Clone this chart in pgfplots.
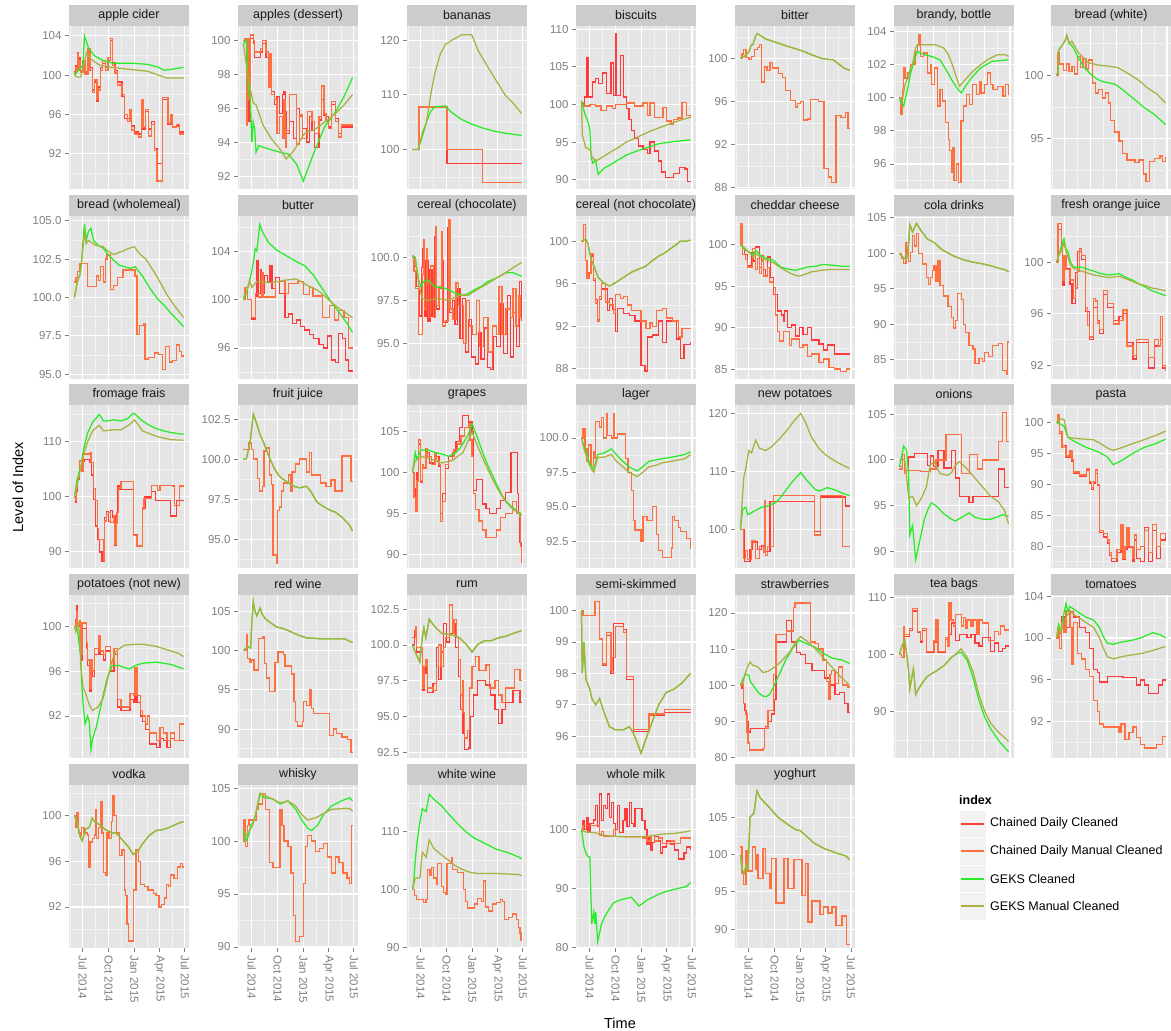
\documentclass[border=0pt]{standalone}
\usepackage{fontspec}
\setmainfont{Liberation Sans}
\usepackage{pgfplots}
\pgfplotsset{compat=1.18}

\definecolor{lnred}{HTML}{FF3A3A}
\definecolor{lnorange}{HTML}{FF7040}
\definecolor{lngreen}{HTML}{26EC26}
\definecolor{lnolive}{HTML}{AAB040}
\definecolor{bggray}{HTML}{E5E5E5}
\definecolor{stripgray}{HTML}{CCCCCC}
\definecolor{tickgray}{HTML}{7F7F7F}
\definecolor{keygray}{HTML}{F2F2F2}

% two series that share the same values
\newcommand{\pair}[3]{\addplot[#1] coordinates {#3};\addplot[#2] coordinates {#3};}

\pgfplotsset{
  panel/.style={
    width=120pt, height=163pt, scale only axis,
    anchor=north west,
    xmin=-49.5, xmax=379.5,
    clip mode=individual,
    axis background/.style={fill=bggray},
    axis line style={draw=none},
    xtick={0,92,184,274,365},
    minor xtick={-46,46,138,229,319.5},
    xticklabels={},
    grid=both,
    major grid style={white, line width=1.1pt},
    minor grid style={white!55!bggray, line width=0.55pt},
    tick pos=left, tick align=outside,
    major tick length=4pt, minor tick length=0pt,
    tick style={tickgray, line width=0.9pt},
    xtick style={draw=none},
    /pgf/number format/assume math mode=true,
    yticklabel style={font=\fontsize{11.5}{13}\selectfont, text=tickgray,
      /pgf/number format/.cd, fixed, precision=2},
  },
  dec/.style={yticklabel style={/pgf/number format/.cd, fixed, fixed zerofill, precision=1}},
  bottomrow/.style={
    xtick style={draw=tickgray},
    xticklabels={Jul 2014,Oct 2014,Jan 2015,Apr 2015,Jul 2015},
    xticklabel style={rotate=-90, anchor=west, font=\fontsize{11.5}{13}\selectfont, text=tickgray},
  },
  strip/.style={after end axis/.append code={
    \fill[stripgray] (rel axis cs:0,1) rectangle ([yshift=21pt]rel axis cs:1,1);
    \node[font=\fontsize{12.5}{14}\selectfont, text=black!90] at ([yshift=10.5pt]rel axis cs:0.5,1) {#1};
  }},
  cr/.style={const plot, draw=lnred, line width=1.35pt, mark=none},
  co/.style={const plot, draw=lnorange, line width=1.35pt, mark=none},
  gc/.style={draw=lngreen, line width=1.25pt, mark=none},
  gm/.style={draw=lnolive, line width=1.25pt, mark=none},
}

\begin{document}
\begin{tikzpicture}
\path[use as bounding box] (0pt,0pt) rectangle (1171pt,-1031pt);

% ---------------- row 1 ----------------
\begin{axis}[panel, at={(69pt,-26pt)}, strip={apple cider},
  ymin=88.4, ymax=105.0, ytick={92,96,100,104}, minor ytick={90,94,98,102}]
\addplot[cr] coordinates {(-30,100.3) (-25,101) (-20,102.3) (-17,100.8) (-12,101.8) (-8,100.5) (0,101.2) (8,100.3) (18,102.5) (25,100.8) (35,98.5) (42,99.3) (50,97.3) (55,98.8) (62,100.8) (70,101.2) (80,100.8) (90,101.5) (100,103.5) (105,101.3) (115,100.5) (125,99.3) (140,97.8) (150,95.6) (160,95.6) (168,96.3) (175,94.8) (185,94.2) (200,94) (210,96.8) (215,94.5) (225,96.3) (235,94.5) (245,95.3) (255,92.5) (265,91) (285,97.5) (305,95) (315,95.8) (320,94.7) (335,94.8) (345,94.2) (360,94.2)};
\addplot[co] coordinates {(-30,100.2) (-25,100.8) (-20,102.2) (-17,100.5) (-12,101.5) (-8,100.3) (0,101.5) (8,100.1) (18,102.7) (25,100.5) (35,98.2) (42,99.5) (50,97.5) (55,98.5) (62,100.5) (70,101.5) (80,100.5) (90,101.8) (100,103.7) (105,101) (115,100.2) (125,99) (140,98) (150,96) (160,95.3) (168,96.5) (175,94.4) (185,94) (200,93.7) (210,97.5) (215,94.7) (225,96.5) (235,93.8) (245,95) (255,92.3) (265,89.2) (285,97.7) (305,95.2) (315,96) (320,94.7) (335,95) (345,94) (360,94)};
\addplot[gc] coordinates {(-30,100) (-15,100.5) (0,101) (6,104) (20,102.8) (40,102) (70,101.5) (110,101.2) (180,101.2) (230,101.1) (270,100.8) (290,100.5) (320,100.6) (360,100.8)};
\addplot[gm] coordinates {(-30,100) (-20,99.8) (-8,99.8) (5,101.2) (13,102.3) (30,101.6) (60,101) (100,100.8) (160,100.6) (230,100.4) (280,99.9) (300,99.7) (360,99.7)};
\end{axis}

\begin{axis}[panel, at={(238pt,-26pt)}, strip={apples (dessert)},
  ymin=91.24, ymax=100.84, ytick={92,94,96,98,100}, minor ytick={93,95,97,99}]
\addplot[cr] coordinates {(-30,100) (-25,100.1) (-20,96) (-15,99.8) (-10,95.2) (-5,100.1) (5,99.8) (10,99) (30,99.3) (38,99.8) (50,99) (60,98.5) (65,99.2) (70,97) (80,96.2) (90,96.7) (100,95.7) (110,96.8) (115,97) (120,95.8) (125,94.5) (135,95.2) (150,94.2) (160,96) (170,95.5) (180,94.8) (195,94) (205,95.5) (215,94.7) (225,93.7) (240,95.3) (250,96.5) (258,95.6) (265,95.5) (275,94.9) (285,96.2) (300,95.4) (310,94.5) (320,94.9) (360,94.9)};
\addplot[co] coordinates {(-30,100) (-25,100.1) (-20,95) (-15,100.1) (-10,96.5) (-5,100.3) (5,100) (10,99.3) (30,99.5) (38,100) (50,99.3) (60,97.2) (65,99.2) (70,96.8) (80,96.5) (90,94.5) (100,95.5) (110,94.2) (115,96.5) (120,93.7) (125,94.7) (135,96.8) (160,93.9) (170,95.6) (180,94.2) (200,95.8) (215,95.2) (225,94.5) (240,95.5) (250,97.3) (258,95.7) (265,95.2) (275,94.8) (285,96.4) (300,95.2) (310,94.3) (320,95) (360,95)};
\addplot[gc] coordinates {(-30,99.8) (-20,100) (-12,97) (-5,96.5) (0,94) (5,95.2) (10,94.8) (15,93.4) (25,93.8) (40,93.7) (60,93.6) (100,93.4) (130,93.3) (160,92.7) (184,91.7) (220,93.3) (260,94.9) (300,95.8) (330,96.7) (360,97.8)};
\addplot[gm] coordinates {(-30,99.8) (-22,98.8) (-10,97.5) (5,96.3) (15,96.2) (40,95) (70,94.2) (100,93.6) (123,93) (150,93.5) (188,94.5) (230,94.8) (270,95.3) (300,95.7) (330,96.2) (360,96.8)};
\end{axis}

\begin{axis}[panel, at={(407pt,-26pt)}, strip={bananas},
  ymin=92.8, ymax=122.6, ytick={100,110,120}, minor ytick={95,105,115}]
\addplot[cr] coordinates {(-30,100) (-6,107.8) (93,97.5) (360,97.5)};
\addplot[co] coordinates {(-30,100) (-6,107.8) (93,100) (220,94) (360,94)};
\addplot[gc] coordinates {(-30,100) (-10,100) (0,101.5) (20,105) (35,107) (50,107.8) (87,108) (110,106.8) (146,105.5) (180,104.7) (218,104) (260,103.4) (301,103) (360,102.6)};
\addplot[gm] coordinates {(-30,100) (-10,100) (-5,101) (5,103) (20,105) (35,110) (50,114) (70,117.5) (87,119.2) (111,120) (146,121) (182,121) (206,118) (235,115.5) (265,113) (301,110) (330,108.5) (360,106.6)};
\end{axis}

\begin{axis}[panel, at={(576pt,-26pt)}, strip={biscuits},
  ymin=88.76, ymax=110.44, ytick={90,95,100,105,110}, minor ytick={92.5,97.5,102.5,107.5}]
\addplot[cr] coordinates {(-30,100) (-20,101) (-10,106.2) (-5,101) (10,103) (20,103.5) (30,102.8) (45,104.2) (60,101.5) (75,105.5) (85,101.2) (92,109.4) (96,101.2) (110,106.5) (120,101) (130,99.5) (140,98) (150,96.5) (160,95.5) (175,94.5) (190,94) (205,93.5) (215,95) (230,93.8) (245,92.5) (256,91) (270,90.3) (300,90.8) (320,91.6) (340,91.4) (350,89.8) (360,89.8)};
\addplot[co] coordinates {(-30,100.3) (-25,99.8) (0,100) (20,99.8) (40,99.2) (60,99.8) (80,99.5) (92,100) (130,100.2) (160,99.8) (190,100.2) (205,98.5) (215,100.2) (230,98.3) (250,98.3) (262,99.6) (275,97.8) (290,97.3) (300,98) (315,98.2) (330,100.3) (345,98.5) (360,98.2)};
\addplot[gc] coordinates {(-30,100.5) (-20,99) (-5,97.5) (0,96.5) (5,93) (10,92.2) (20,92.6) (30,90.7) (50,91.5) (74,92) (100,92.6) (132,93.3) (160,93.7) (190,94.1) (248,94.8) (307,95.1) (360,95.3)};
\addplot[gm] coordinates {(-30,100.2) (-27,96) (-15,94.3) (0,94) (8,93) (23,92.5) (45,93) (75,93.7) (103,94.3) (130,95) (161,95.5) (190,96) (219,96.5) (255,97) (292,97.5) (330,98) (360,98.3)};
\end{axis}

\begin{axis}[panel, at={(735pt,-26pt)}, strip={bitter},
  ymin=87.9, ymax=103.0, ytick={88,92,96,100}, minor ytick={90,94,98,102}]
\pair{cr}{co}{(-30,100) (-25,100.4) (-18,100.8) (-10,100.1) (0,99.9) (10,100.2) (20,100.8) (30,101) (38,101.3) (45,97.8) (55,99.2) (65,98.9) (75,99.6) (85,99.1) (107,98.6) (120,98.2) (130,97) (150,96.1) (167,95.5) (175,95.8) (185,96) (195,94.3) (210,94.4) (220,96.2) (250,96) (269,89.8) (285,89) (296,88.5) (311,94.7) (330,94.5) (345,95) (355,93.5) (360,93.5)}
\pair{gc}{gm}{(-30,100) (-10,100.3) (0,100.6) (8,101.2) (15,101.3) (23,102) (30,102.3) (60,101.8) (107,101.4) (140,101.1) (167,100.9) (200,100.6) (228,100.3) (260,100) (285,99.9) (300,99.9) (320,99.5) (340,99.1) (360,98.9)}
\end{axis}

\begin{axis}[panel, at={(894pt,-26pt)}, strip={brandy, bottle},
  ymin=94.49, ymax=104.34, ytick={96,98,100,102,104}, minor ytick={95,97,99,101,103}]
\pair{cr}{co}{(-30,100) (-25,99) (-20,100.5) (-15,101.8) (-10,101.2) (0,101.5) (10,102) (25,102.8) (35,103.2) (40,103.8) (45,102.5) (55,102.7) (70,101.5) (80,102) (85,100.8) (95,101.8) (105,99.5) (115,100.5) (125,99.8) (135,98.5) (145,97.5) (150,96.8) (155,95.5) (160,97) (165,95) (175,96) (182,94.9) (190,98.6) (200,99.5) (210,100.2) (220,99.6) (232,100.8) (245,100.2) (255,101) (262,100.3) (275,100.8) (285,101.5) (295,100.8) (305,100.5) (320,100.7) (340,100.1) (350,100.8) (360,100.2)}
\addplot[gc] coordinates {(-30,99.9) (-15,99.5) (0,100.6) (10,101.5) (22,102.2) (34,102.8) (60,102.6) (85,102.5) (115,102.3) (140,101.6) (160,101) (175,100.6) (191,100.3) (210,100.8) (232,101.3) (260,101.8) (300,102.2) (360,102.3)};
\addplot[gm] coordinates {(-30,100) (-20,99.8) (-10,100.8) (0,101.2) (10,101.8) (19,102.2) (27,103) (34,103.2) (60,103.2) (100,103.2) (129,103) (145,102.6) (159,102) (172,101.3) (185,100.7) (200,101) (232,101.6) (260,102) (284,102.3) (320,102.6) (350,102.6) (360,102.5)};
\end{axis}

\begin{axis}[panel, at={(1051pt,-26pt)}, strip={bread (white)},
  ymin=91.0, ymax=103.9, ytick={95,100}, minor ytick={92.5,97.5,102.5}]
\pair{cr}{co}{(-30,100) (-25,101.8) (-18,100.9) (-5,100.4) (5,100.9) (15,100.3) (25,100.7) (35,100.1) (45,101.5) (55,100.6) (65,101.3) (75,100.5) (85,101.2) (99,99.4) (110,98.6) (121,98.9) (135,98.2) (145,98.6) (155,97.8) (164,96.4) (178,95.5) (193,94.8) (205,93.8) (222,93.3) (251,93.1) (265,93.3) (280,92.2) (290,91.6) (303,93.2) (320,93.4) (340,93.6) (350,93.2) (360,93.5)}
\addplot[gc] coordinates {(-30,100) (-25,100.2) (-22,102) (-12,102.3) (0,102.7) (7,103.1) (15,102.6) (30,102.2) (48,101.4) (70,100.6) (92,100.1) (115,99.7) (135,99.5) (179,99.3) (210,98.8) (237,98.3) (260,97.9) (280,97.5) (320,96.9) (360,96.1)};
\addplot[gm] coordinates {(-30,100) (-25,100.2) (-22,102) (-12,102.3) (0,102.7) (7,103.2) (15,102.5) (25,102.7) (48,101.8) (84,101) (121,100.8) (164,100.7) (190,100.6) (237,100) (270,99.5) (295,99) (330,98.5) (360,97.8)};
\end{axis}

% ---------------- row 2 ----------------
\begin{axis}[panel, dec, at={(69pt,-216pt)}, strip={bread (wholemeal)},
  ymin=94.7, ymax=105.3, ytick={95,97.5,100,102.5,105}, minor ytick={96.25,98.75,101.25,103.75}]
\pair{cr}{co}{(-30,101) (-25,101.3) (-20,101.7) (-10,102.2) (16,100.7) (48,101.4) (55,101.1) (62,102) (73,101) (80,102.5) (86,102.8) (100,100.5) (110,100.8) (125,101.3) (143,101.8) (187,101.4) (193,97.6) (203,98.2) (218,98.3) (222,96) (235,96.1) (255,96.4) (270,96.3) (285,95.3) (295,96.8) (310,95.8) (320,95.9) (335,96.9) (345,96.5) (352,96.2) (360,96.2)}
\addplot[gc] coordinates {(-30,100) (-20,101) (-10,101.5) (-5,102.2) (0,103.5) (6,104.8) (12,103.7) (20,104.3) (29,104.5) (38,103.7) (55,103.4) (73,103.2) (90,102.8) (111,102.4) (130,102.1) (149,102) (170,101.9) (187,102) (213,101.4) (240,100.6) (263,100) (290,99.5) (314,99) (340,98.5) (360,98.1)};
\addplot[gm] coordinates {(-30,100) (-20,101) (-10,101.5) (-5,102.2) (0,103.2) (6,104.2) (12,103.5) (20,103.7) (29,103.6) (45,103.4) (73,103.3) (90,103) (111,102.8) (140,103) (165,103.2) (184,103.3) (200,102.9) (225,102.5) (250,101.8) (276,101) (300,100.2) (326,99.5) (360,98.7)};
\end{axis}

\begin{axis}[panel, at={(238pt,-216pt)}, strip={butter},
  ymin=93.44, ymax=106.9, ytick={96,100,104}, minor ytick={94,98,102,106}]
\addplot[cr] coordinates {(-30,100) (-25,101) (-15,100) (-1,98.4) (14,100.3) (18,103.2) (22,100.5) (30,102.5) (35,100.5) (45,102) (55,101.5) (65,102.8) (72,100.9) (85,101.8) (100,100.5) (119,98.5) (130,98.8) (145,98) (160,98.3) (175,97.8) (189,97.5) (205,97.1) (221,96.8) (240,96.3) (257,96) (270,97) (285,95) (300,94.8) (310,97.2) (323,96.8) (335,95) (345,94.1) (360,94)};
\addplot[co] coordinates {(-30,100) (-25,101) (-15,100) (-1,98.5) (14,100.5) (24,100.2) (35,102.2) (40,100.2) (85,101.5) (118,100.5) (131,101.3) (165,101.5) (185,100.4) (205,101) (218,100.3) (252,98.5) (278,99.5) (295,98.3) (310,99.1) (330,98.5) (345,96) (360,96)};
\addplot[gc] coordinates {(-30,100) (-20,100.5) (-8,101.5) (5,103) (12,104.2) (18,104) (28,106.2) (40,105.5) (60,104.7) (88,104.1) (110,103.8) (132,103.5) (170,103) (189,102.8) (205,102.4) (221,102) (246,101.1) (278,100) (310,99) (341,98) (360,97.3)};
\addplot[gm] coordinates {(-30,100.2) (-20,100.6) (-8,101.6) (0,101) (18,101.5) (68,101.4) (119,101.6) (157,101.7) (175,101.5) (195,101.2) (233,100.8) (260,100.3) (278,99.9) (310,99.3) (330,99) (360,98.5)};
\end{axis}

\begin{axis}[panel, dec, at={(407pt,-216pt)}, strip={cereal (chocolate)},
  ymin=92.93, ymax=102.4, ytick={95,97.5,100}, minor ytick={93.75,96.25,98.75,101.25}]
\addplot[cr] coordinates {(-30,100) (-22,99.5) (-15,98.3) (-5,96.6) (3,99.4) (8,100.5) (12,96.6) (18,99.8) (26,96.3) (33,99.3) (40,96.6) (50,101.2) (55,97) (66,98.2) (75,99.8) (80,96.2) (95,101.7) (102,96.8) (112,97.5) (122,96.1) (131,98.2) (140,95.3) (150,97.6) (160,94.5) (170,96.4) (180,94.2) (195,93.8) (205,95.6) (215,94.1) (228,95.9) (238,93.6) (250,93.5) (258,95.4) (270,94.8) (285,97.3) (295,94.4) (310,97.8) (320,94.2) (332,96.8) (342,94.8) (352,98.6) (360,96.3)};
\addplot[co] coordinates {(-30,100) (-25,99.2) (-18,98.2) (-8,95.5) (5,99) (10,101) (14,97) (20,100.5) (24,98.5) (28,96.5) (35,99.5) (45,96.5) (52,101.8) (57,97.2) (65,98.3) (73,101.5) (78,96) (88,96.3) (100,102.2) (104,97) (115,96.4) (126,98.5) (135,97.2) (152,95) (162,97.5) (175,96) (185,95.5) (200,97.5) (210,94.8) (225,96.5) (240,94.5) (255,96) (270,95.5) (280,98.3) (290,95.5) (305,97) (320,96.5) (330,98.2) (340,96) (350,97.8) (355,96.5) (360,96.5)};
\addplot[gc] coordinates {(-30,100.1) (-20,100) (-8,98.7) (0,98.3) (10,98.6) (24,98.7) (49,98.3) (87,98.2) (126,97.9) (151,97.8) (170,97.9) (189,98.1) (215,98.3) (240,98.6) (270,98.8) (303,99.1) (330,99.1) (360,98.9)};
\addplot[gm] coordinates {(-30,100.1) (-20,99.9) (-8,98.5) (0,97.9) (5,97.6) (24,97.5) (60,97.6) (100,97.5) (138,97.8) (170,97.8) (189,98) (220,98.3) (252,98.6) (280,98.9) (303,99.1) (330,99.4) (360,99.7)};
\end{axis}

\begin{axis}[panel, at={(576pt,-216pt)}, strip={cereal (not chocolate)},
  ymin=87.05, ymax=102.37, ytick={88,92,96,100}, minor ytick={90,94,98,102}]
\addplot[cr] coordinates {(-30,100) (-22,101.6) (-15,98.2) (-10,96.5) (-3,97) (4,98.6) (14,96.3) (21,94.5) (28,92.6) (35,94.5) (42,95.5) (63,93.5) (70,94.6) (80,93.6) (91,91.5) (98,93.7) (120,93.2) (141,93) (162,92.5) (183,88.3) (197,87.8) (207,91) (225,91.2) (246,92.5) (260,90.5) (274,92.5) (295,92.5) (309,90.8) (323,89) (337,90.3) (360,90.5)};
\addplot[co] coordinates {(-30,100) (-22,101.6) (-15,98.2) (-10,96.5) (-3,97) (4,98.8) (14,96.5) (21,94.2) (28,92.5) (35,94.8) (42,96) (56,94.3) (70,94) (84,93.2) (91,95) (110,94.6) (120,94.8) (134,94) (150,93.5) (183,92.5) (201,91.8) (215,92.3) (225,92) (239,93.5) (260,93.7) (274,92.8) (295,92.5) (316,91) (330,91.8) (360,91.8)};
\pair{gc}{gm}{(-30,100) (-15,100.2) (-7,99.8) (4,98.3) (14,97.7) (30,96.6) (49,96.1) (70,95.8) (92,96.1) (120,96.6) (150,97.1) (176,97.4) (197,97.6) (220,98.1) (246,98.6) (268,98.9) (288,99.3) (310,99.7) (323,100) (345,100) (360,100.1)}
\end{axis}

\begin{axis}[panel, at={(735pt,-216pt)}, strip={cheddar cheese},
  ymin=83.8, ymax=103.44, ytick={85,90,95,100}, minor ytick={87.5,92.5,97.5,102.5}]
\addplot[cr] coordinates {(-30,100) (-23,99.5) (-15,98.8) (-5,97.5) (10,99) (17,98) (24,99.7) (38,97.2) (45,98.7) (52,97) (60,96.2) (67,98.5) (78,96) (88,94) (102,92) (116,91.5) (124,90.8) (128,92) (138,90) (152,90.3) (166,89) (180,90) (194,89.2) (209,90) (223,88.5) (251,88) (266,87.3) (280,87.9) (307,86.8) (360,86.7)};
\addplot[co] coordinates {(-30,100) (-28,102.5) (-23,98.8) (-12,98.2) (-5,97.3) (12,99.5) (24,97) (31,98.3) (38,96.5) (45,98) (52,96.2) (67,97.2) (74,95.5) (88,94.8) (95,91.5) (102,89.5) (109,88.4) (124,89.5) (145,87.8) (152,88.6) (180,87.6) (194,87.9) (209,86.5) (223,86.8) (251,85.8) (266,86.2) (286,85.2) (307,85) (328,84.7) (349,85) (360,84.9)};
\addplot[gc] coordinates {(-30,100) (-15,99.4) (0,99.1) (17,98.8) (24,99.3) (45,98.6) (67,98.3) (88,98.1) (100,97.7) (115,97.3) (131,97.1) (166,96.9) (190,97.1) (209,97.3) (240,97.4) (266,97.6) (300,97.5) (330,97.4) (360,97.4)};
\addplot[gm] coordinates {(-30,100) (-15,99.6) (0,99.1) (17,98.5) (24,98.9) (52,98.3) (88,97.8) (110,97.3) (124,97) (145,96.6) (166,96.3) (180,96.2) (200,96.4) (223,96.7) (260,96.9) (294,97) (360,97)};
\end{axis}

\begin{axis}[panel, at={(894pt,-216pt)}, strip={cola drinks},
  ymin=82.3, ymax=105.24, ytick={85,90,95,100,105}, minor ytick={87.5,92.5,97.5,102.5}]
\pair{cr}{co}{(-30,100) (-22,99.3) (-15,98.6) (-7,101.5) (3,98.8) (10,100.1) (17,102.5) (24,101) (31,102.8) (38,100) (52,98.5) (66,96.6) (73,95.6) (80,96.6) (87,97.6) (94,98.3) (101,96) (108,99) (115,95.5) (128,94) (143,92.5) (157,91) (163,89.5) (171,90.5) (178,94.3) (192,93.5) (199,90) (206,88.8) (219,87) (233,86.5) (240,84.5) (254,85.2) (268,84.8) (275,86) (289,85.5) (303,87) (324,87.3) (338,83.5) (352,83) (356,87.5) (360,87.6)}
\pair{gc}{gm}{(-30,100) (-20,99.5) (-5,99.1) (3,101.5) (7,104) (17,103) (31,104.2) (50,103) (70,102) (94,101.5) (122,100.5) (145,100) (170,99.5) (198,99.1) (226,98.8) (268,98.5) (300,98.2) (324,97.9) (345,97.7) (360,97.4)}
\end{axis}

\begin{axis}[panel, at={(1051pt,-216pt)}, strip={fresh orange juice},
  ymin=90.96, ymax=103.56, ytick={92,96,100}, minor ytick={94,98,102}]
\addplot[cr] coordinates {(-30,100) (-25,102.5) (-13,101) (-8,98.2) (-3,100) (4,99.5) (18,98.3) (25,96.8) (39,99.2) (46,100.8) (60,100.2) (74,96.2) (88,94) (103,96.5) (117,95.5) (124,94.5) (138,97.5) (152,96.5) (173,95.5) (194,95.8) (208,96) (222,93.8) (243,92.5) (257,93.8) (285,93.8) (300,91.8) (320,93.5) (342,94) (350,91.8) (360,91.6)};
\addplot[co] coordinates {(-30,100) (-25,103) (-13,101.5) (-8,98.6) (-3,100.5) (4,99.4) (18,98.6) (32,97.2) (39,98) (46,99.3) (53,101) (60,100.5) (74,96.5) (81,95.1) (88,94.2) (103,97.2) (110,97) (117,95.3) (124,94.8) (138,97.8) (152,96.8) (173,95.2) (194,95.5) (208,96.3) (222,93.5) (243,92.8) (257,94) (285,94) (300,92.6) (320,94) (335,93.5) (342,95.8) (350,92) (360,91.6)};
\addplot[gc] coordinates {(-30,100) (-22,100.5) (-10,101.4) (-3,101.8) (4,101) (11,100.8) (20,100) (32,99.6) (60,99.6) (103,99.3) (130,99.1) (159,99) (194,99.1) (220,98.8) (243,98.6) (265,98.3) (285,98.1) (310,97.8) (335,97.6) (360,97.4)};
\addplot[gm] coordinates {(-30,100) (-22,100.5) (-10,101) (-3,101.5) (4,100.8) (11,100.4) (20,99.8) (32,99.5) (60,99.3) (103,99) (130,98.9) (159,98.8) (194,98.9) (220,98.7) (243,98.5) (265,98.3) (285,98.2) (310,98) (335,97.9) (360,97.8)};
\end{axis}

% ---------------- row 3 ----------------
\begin{axis}[panel, at={(69pt,-405pt)}, strip={fromage frais},
  ymin=87.07, ymax=116.7, ytick={90,100,110}, minor ytick={95,105,115}]
\addplot[cr] coordinates {(-30,100) (-27,99) (-22,101) (-18,103.2) (-13,105.5) (-5,106.5) (5,106.8) (23,106.3) (32,104) (38,99.5) (46,94.7) (52,92.3) (60,90) (68,88.2) (77,96.2) (84,97.4) (92,95.5) (99,97.5) (106,96.3) (114,91.2) (118,96.5) (124,102) (130,101.3) (181,93.2) (194,91.2) (213,98) (222,100) (245,101) (260,99.3) (300,99.3) (314,96.5) (335,99.3) (360,99.3)};
\addplot[co] coordinates {(-30,100) (-27,99.3) (-22,101.5) (-18,103.5) (-13,106.5) (-5,104.6) (1,107.8) (23,108) (29,106.3) (38,101.5) (46,99.3) (52,94.2) (56,92.2) (73,88.5) (77,95.6) (84,96.8) (92,97.2) (99,95.4) (109,96.6) (114,91.3) (118,95.2) (122,97.2) (127,101.6) (137,102.8) (181,93) (194,91.1) (213,97.8) (219,99.7) (245,102.1) (267,101.2) (276,102.1) (320,102) (327,98.4) (345,102) (360,102)};
\addplot[gc] coordinates {(-30,100) (-21,103) (-13,104.6) (-5,106) (4,109) (17,111.6) (35,113.6) (48,114.3) (58,115) (67,114.4) (73,113.8) (86,113.8) (111,114) (137,113.8) (162,114.3) (175,115) (184,115.2) (200,114.4) (213,113.8) (238,113) (263,112.4) (289,112) (314,111.7) (340,111.5) (360,111.4)};
\addplot[gm] coordinates {(-30,100) (-21,102) (-13,104) (-5,106) (4,108) (17,110) (35,112) (58,113) (67,112.5) (73,112) (111,112.2) (137,112.2) (162,113) (175,113.5) (184,114) (200,113) (213,112) (238,111.5) (263,111) (289,110.7) (314,110.4) (360,110.3)};
\end{axis}

\begin{axis}[panel, dec, at={(238pt,-405pt)}, strip={fruit juice},
  ymin=93.19, ymax=103.38, ytick={95,97.5,100,102.5}, minor ytick={93.75,96.25,98.75,101.25}]
\pair{cr}{co}{(-30,100.6) (-20,100.6) (-10,101) (-2,100.6) (5,100) (20,98.8) (28,98) (37,98.3) (43,100.5) (50,100.7) (62,99) (70,98.4) (75,94) (87,93.5) (91,96.8) (100,97) (107,98) (113,98.5) (131,99) (138,98) (144,99.2) (157,99.7) (170,100) (195,99.2) (205,100.4) (214,99) (245,98.5) (265,98.3) (283,98.7) (297,98) (322,100.2) (354,98.6) (360,98.6)}
\pair{gc}{gm}{(-30,100) (-20,100) (-12,100.6) (-5,101.2) (5,102.8) (12,102.5) (30,101.5) (43,101) (56,100.4) (70,99.8) (81,99.4) (95,99) (107,98.8) (132,98.5) (150,98.3) (170,98.2) (195,98.3) (210,98) (233,97.3) (259,97) (280,96.8) (297,96.7) (320,96.4) (348,95.9) (360,95.5)}
\end{axis}

\begin{axis}[panel, at={(407pt,-405pt)}, strip={grapes},
  ymin=88.35, ymax=108.29, ytick={90,95,100,105}, minor ytick={92.5,97.5,102.5,107.5}]
\addplot[cr] coordinates {(-30,100) (-24,98) (-20,96.2) (-14,100) (-8,103.5) (-2,98.8) (5,100.6) (18,102.5) (30,101.2) (50,102) (65,100.8) (71,95) (77,97.5) (87,100.5) (100,102) (113,102.5) (126,103.8) (138,105.5) (150,107) (170,106.2) (183,105) (189,97.8) (198,99.2) (220,96.2) (233,95.6) (245,95) (271,95.6) (284,96.6) (303,97.6) (322,102.5) (345,97.5) (350,95) (355,91.5) (360,89.5)};
\addplot[co] coordinates {(-30,100) (-24,97) (-20,95.3) (-14,99) (-8,104) (-2,99) (5,101) (10,100.5) (18,103) (24,102) (37,101) (50,102.3) (56,101.5) (65,101) (71,94) (77,96.5) (87,101) (100,101.5) (113,102) (119,102.8) (132,103.5) (144,104.5) (157,105.5) (170,106) (176,104) (183,102) (189,97.5) (195,95.5) (208,94.1) (220,93) (233,92.1) (271,93) (284,94.5) (303,95) (328,96.5) (341,95) (354,94.5) (357,91) (360,89)};
\addplot[gc] coordinates {(-30,100) (-20,102.5) (-14,101.6) (0,102.8) (25,102.8) (50,102.5) (75,102.3) (100,102) (126,102.5) (140,103) (151,103.6) (170,104.7) (183,106) (200,104.5) (220,102.6) (238,101) (252,100) (265,99) (278,98.1) (290,97.3) (303,96.6) (320,96) (340,95.4) (360,94.8)};
\addplot[gm] coordinates {(-30,100) (-20,101.5) (0,102) (25,101.8) (50,101.5) (75,101.2) (113,101.5) (151,102.5) (170,104) (183,105) (200,103.5) (225,101.5) (252,99.5) (278,97.8) (303,96.5) (330,95.5) (360,95)};
\end{axis}

\begin{axis}[panel, dec, at={(576pt,-405pt)}, strip={lager},
  ymin=90.54, ymax=102.4, ytick={92.5,95,97.5,100}, minor ytick={91.25,93.75,96.25,98.75,101.25}]
\pair{cr}{co}{(-30,100) (-24,100.7) (-17,99.2) (-10,98.3) (-4,99.5) (4,98) (14,99) (18,98.5) (21,101.2) (35,100.8) (42,101.5) (49,100) (60,101.8) (63,100.2) (77,100) (84,101.8) (88,100) (98,100.3) (127,98.5) (137,97.5) (148,96.2) (155,94) (162,93.3) (183,92.5) (190,94.3) (204,94) (225,95) (239,93) (246,91.8) (260,91.3) (292,92) (295,94.3) (303,94) (317,93.5) (324,93.2) (345,92.7) (360,91.9)}
\addplot[gc] coordinates {(-30,100) (-22,99.5) (-7,98.5) (4,98) (14,97.7) (28,98.8) (50,98.9) (77,99.2) (95,98.8) (113,98.4) (140,97.9) (169,97.6) (183,97.8) (211,98.3) (235,98.4) (260,98.5) (290,98.6) (316,98.7) (340,98.8) (360,99)};
\addplot[gm] coordinates {(-30,100) (-22,99.3) (-7,98.3) (4,97.8) (14,97.5) (28,98.6) (50,98.6) (77,98.8) (95,98.3) (113,98) (140,97.5) (169,97.2) (183,97.4) (211,97.9) (235,98) (260,98.2) (290,98.3) (316,98.4) (340,98.5) (360,98.8)};
\end{axis}

\begin{axis}[panel, at={(735pt,-405pt)}, strip={new potatoes},
  ymin=93.33, ymax=121.45, ytick={100,110,120}, minor ytick={95,105,115}]
\addplot[cr] coordinates {(-30,100) (-15,94.5) (4,96.5) (14,97.8) (30,96.5) (45,97.2) (60,96.2) (75,104.8) (234,99.6) (256,105.6) (345,104) (360,104)};
\addplot[co] coordinates {(-30,100) (-20,95) (-12,96.3) (-5,94.8) (10,98) (24,95) (38,97) (52,96) (56,105) (60,95.5) (67,97) (88,105.8) (234,99) (256,105.8) (335,97) (360,97)};
\addplot[gc] coordinates {(-30,100) (-22,103.5) (-11,103.8) (-4,102.5) (17,103.1) (45,103.8) (67,104) (95,104.6) (110,105.3) (124,106.2) (150,107.9) (185,109.8) (210,108.3) (237,106.9) (252,106.6) (280,107.2) (308,106.8) (336,106.2) (360,105.8)};
\addplot[gm] coordinates {(-30,100) (-25,104) (-18,109) (-11,110.5) (0,113.6) (10,113.2) (24,115.4) (38,114) (60,113.6) (80,114.2) (109,115.6) (138,117.2) (160,118.6) (185,120) (202,118.5) (223,116) (250,114) (273,112.9) (301,112) (322,111.4) (360,110.5)};
\end{axis}

\begin{axis}[panel, at={(894pt,-405pt)}, strip={onions},
  ymin=88.16, ymax=106.0, ytick={90,95,100,105}, minor ytick={92.5,97.5,102.5}]
\addplot[cr] coordinates {(-30,99.3) (-20,100.6) (-11,98.8) (3,100.3) (24,100.7) (70,99.4) (80,100.4) (91,99.3) (108,101) (129,99.1) (157,101) (171,98) (185,96) (219,95.3) (233,96) (324,99) (345,97) (360,97)};
\addplot[co] coordinates {(-30,99) (-20,100.6) (-11,98.5) (-4,98.8) (45,98.7) (80,99) (100,100) (136,102.8) (192,98.5) (220,100.6) (248,99) (268,100) (324,102) (338,105.2) (352,102) (360,102)};
\addplot[gc] coordinates {(-30,99.2) (-15,101.5) (-4,101) (3,98) (7,91.8) (17,92.8) (28,89.1) (45,91.5) (59,93.5) (72,94.6) (84,95.3) (100,95) (128,94.1) (156,93.5) (170,93.3) (198,93.8) (219,94.2) (240,93.7) (268,93.5) (296,93.5) (324,93.8) (338,94) (360,93.8)};
\addplot[gm] coordinates {(-30,100) (-11,100) (-4,98) (3,95.8) (17,96) (31,95) (45,95.6) (66,97) (80,99.4) (94,99.8) (115,98.5) (143,98.3) (156,98.6) (170,99.4) (184,99.8) (212,99) (240,98) (268,97) (296,96) (324,95.4) (345,94.5) (360,93)};
\end{axis}

\begin{axis}[panel, at={(1051pt,-405pt)}, strip={pasta},
  ymin=76.47, ymax=102.83, ytick={80,85,90,95,100}, minor ytick={77.5,82.5,87.5,92.5,97.5,102.5}]
\addplot[cr] coordinates {(-30,100) (-25,101) (-20,98.2) (-10,96.3) (4,94.3) (18,95.2) (25,93.8) (32,91.8) (53,91.3) (77,92.2) (88,90.2) (95,89.2) (103,90.2) (110,91.8) (117,89.8) (124,82.2) (138,81.5) (152,80.5) (159,78.5) (166,77.5) (187,79) (201,82.8) (208,77.8) (215,79.5) (222,82.5) (229,79.8) (243,77.5) (250,81) (257,78) (271,77.5) (285,83) (300,77.5) (313,82.5) (328,78) (342,81) (360,81.8)};
\addplot[co] coordinates {(-30,100) (-25,101.3) (-20,98.5) (-10,96) (4,94.6) (18,95.5) (25,94) (32,92) (53,91.5) (77,92.5) (88,90.5) (95,89.5) (103,90.5) (110,92.3) (117,90) (124,82.5) (138,82) (152,81) (159,79) (166,78) (187,79.5) (201,83.5) (208,78) (215,80) (222,83) (229,80) (243,78) (250,81.8) (257,79.5) (271,80) (285,82.5) (300,79) (313,83.5) (328,80) (342,82) (360,81.5)};
\addplot[gc] coordinates {(-30,100) (-17,99.8) (-3,99.4) (11,97.6) (32,97) (75,96) (117,95.3) (150,94.5) (173,93.2) (201,93.8) (243,95) (285,96) (320,96.5) (360,97.3)};
\addplot[gm] coordinates {(-30,100) (-17,100.6) (-3,100.5) (11,97.6) (46,97.4) (103,97.2) (131,96.5) (155,95.8) (173,95.5) (201,95.9) (243,96.6) (270,97) (300,97.5) (330,98) (360,98.6)};
\end{axis}

% ---------------- row 4 ----------------
\begin{axis}[panel, at={(69pt,-595pt)}, strip={potatoes (not new)},
  ymin=88.26, ymax=102.78, ytick={92,96,100}, minor ytick={90,94,98,102}]
\addplot[cr] coordinates {(-30,100) (-25,100.6) (-21,101.8) (-19,100) (-13,100.2) (-9,97) (-3,99.8) (13,98) (17,96.5) (23,94.2) (29,96.5) (35,95.5) (42,97.5) (57,98.8) (61,97.5) (73,97) (80,97.8) (99,96) (111,97.5) (124,92.8) (137,92.5) (168,93.5) (181,93.2) (187,95.5) (194,93.2) (206,92) (213,91.5) (225,90.8) (238,89.5) (263,89.2) (276,90) (289,89.8) (301,89.2) (314,90) (327,89.8) (360,89.8)};
\addplot[co] coordinates {(-30,100) (-25,100.5) (-21,101.3) (-19,100.2) (-13,100.5) (-9,97.5) (-3,100.3) (13,98.5) (17,97) (23,94.5) (29,97) (35,96) (42,98) (57,99.2) (61,97.8) (73,97.5) (80,98.2) (99,96.8) (111,98) (124,93.5) (137,92.8) (168,94) (181,93.8) (187,96.3) (194,93.8) (206,92.5) (213,92) (225,91.3) (232,92) (238,90.5) (263,89.8) (276,91) (289,90.5) (301,89.8) (314,90.5) (327,89.8) (345,91.3) (360,91.3)};
\addplot[gc] coordinates {(-30,100) (-20,99.8) (-9,97.5) (-3,94.5) (1,93) (8,91.3) (17,92) (23,91.5) (29,89) (35,90) (48,91) (61,92.5) (73,93.9) (86,95.3) (105,96.5) (130,96.5) (149,96.3) (168,96.2) (187,96.5) (213,96.7) (263,96.8) (314,96.6) (360,96.2)};
\addplot[gm] coordinates {(-30,100) (-25,99.5) (-21,100) (-15,100.3) (-9,98) (-5,96) (0,94.6) (10,94) (23,93) (35,92.5) (54,92.8) (73,93.6) (86,95) (99,96.5) (111,97.4) (124,97.9) (149,98.3) (187,98.4) (213,98.4) (238,98.3) (263,98.2) (289,98) (314,97.8) (340,97.6) (360,97.3)};
\end{axis}

\begin{axis}[panel, at={(238pt,-595pt)}, strip={red wine},
  ymin=86.32, ymax=107.05, ytick={90,95,100,105}, minor ytick={87.5,92.5,97.5,102.5}]
\pair{cr}{co}{(-30,100) (-20,102) (-16,99) (-7,98.5) (-1,98.8) (8,97.5) (24,101.5) (40,101.8) (45,98.3) (53,96.5) (62,94.8) (83,98.5) (94,99.8) (112,99.5) (119,98) (142,97) (151,93.5) (157,91) (164,90.4) (180,91) (185,93.5) (195,93) (208,95) (214,92.6) (221,92) (270,92) (278,89.2) (291,90) (303,89.4) (322,89) (341,88.7) (355,87) (360,87)}
\pair{gc}{gm}{(-30,100) (-14,100.5) (-4,100.3) (-1,103) (5,106.2) (11,105) (18,104.4) (30,105.4) (37,104.6) (49,104) (68,103.5) (88,103) (110,102.8) (132,102.5) (150,102.2) (170,101.9) (195,101.6) (240,101.5) (297,101.5) (330,101.5) (360,101)}
\end{axis}

\begin{axis}[panel, dec, at={(407pt,-595pt)}, strip={rum},
  ymin=92.1, ymax=103.49, ytick={92.5,95,97.5,100,102.5}, minor ytick={93.75,96.25,98.75,101.25}]
\addplot[cr] coordinates {(-30,100) (-22,101) (-15,99.5) (5,96.8) (11,98) (18,98.6) (24,96.7) (43,97.3) (56,99.8) (62,97.6) (72,99.5) (81,101.5) (92,100.2) (103,100.8) (113,101.5) (125,99.8) (135,97.8) (141,95.5) (151,93.8) (157,92.7) (170,92.8) (176,95) (189,96.5) (202,97.5) (230,97.2) (250,96.5) (265,95.5) (278,94.5) (290,95.5) (303,96) (329,96.8) (355,96) (360,96)};
\addplot[co] coordinates {(-30,100.5) (-20,101.3) (-15,99.8) (5,97) (11,98.5) (18,99) (24,97) (43,96.8) (56,98.5) (62,100) (72,98.5) (81,99.8) (87,100.5) (103,102.8) (113,100.8) (119,101.8) (128,100.5) (135,99) (141,96.5) (148,97.5) (151,95.3) (157,93.5) (167,94) (174,97) (183,98.5) (196,99.2) (208,98.2) (233,98.6) (246,97) (265,97.5) (278,96.5) (290,96) (303,97) (335,98.3) (355,97.5) (360,97.5)};
\pair{gc}{gm}{(-30,100) (-20,99.5) (-4,98.8) (5,100.5) (11,101.2) (18,100.5) (30,101.8) (49,101.3) (75,100.8) (113,100.7) (138,100.5) (164,100) (183,99.5) (202,100) (227,100.3) (252,100.3) (278,100.5) (303,100.6) (329,100.8) (360,101)}
\end{axis}

\begin{axis}[panel, at={(576pt,-595pt)}, strip={semi-skimmed},
  ymin=95.3, ymax=100.5, ytick={96,97,98,99,100}, minor ytick={95.5,96.5,97.5,98.5,99.5}]
\addplot[cr] coordinates {(-30,100) (-24,99.85) (18,100.3) (35,99.1) (46,98.25) (60,99.2) (76,98) (84,99.6) (120,99.4) (131,97.8) (155,96.15) (211,96.65) (267,96.75) (360,96.75)};
\addplot[co] coordinates {(-30,100) (-24,99.85) (18,100.3) (35,99.1) (46,98.3) (60,99.3) (76,98.1) (82,98.5) (91,99.5) (120,99.3) (131,97.9) (155,96.2) (211,96.7) (267,96.85) (360,96.85)};
\pair{gc}{gm}{(-30,100) (-27,98) (-21,99) (-14,97.8) (0,97.5) (7,97.2) (21,97) (35,97.2) (49,96.8) (70,96.3) (91,96.2) (120,96.2) (141,96.3) (155,96.1) (169,95.8) (183,95.45) (204,96) (225,96.5) (246,97) (274,97.4) (302,97.5) (330,97.7) (360,98)}
\end{axis}

\begin{axis}[panel, at={(735pt,-595pt)}, strip={strawberries},
  ymin=79.8, ymax=125.0, ytick={80,90,100,110,120}, minor ytick={85,95,105,115}]
\addplot[cr] coordinates {(-30,100) (-25,99) (-18,95) (-14,93) (-8,90) (-3,87) (5,88) (60,88.5) (68,90) (80,92) (92,96) (97,112) (135,118) (152,112) (170,109) (185,108.5) (203,106) (226,104) (250,104) (270,102) (290,100) (308,97.5) (325,98) (343,95) (355,92.5) (360,92.5)};
\addplot[co] coordinates {(-30,100) (-25,100.5) (-18,95) (-11,92) (-7,87) (-3,84) (2,82) (50,82.5) (56,88) (68,93) (88,103) (97,114) (135,115) (160,121.5) (165,122.8) (220,112) (237,111.5) (250,110) (265,107) (278,101) (284,96) (290,103) (296,104) (308,100.5) (320,105) (335,100) (355,99.5) (360,99.5)};
\addplot[gc] coordinates {(-30,100) (-20,102) (-10,103) (0,102.8) (5,101) (15,100) (33,98) (50,97) (62,96.8) (75,97.5) (91,100) (109,103) (132,107) (155,110) (180,112.5) (203,111.6) (238,110.5) (262,109) (297,107.5) (332,107) (360,106)};
\addplot[gm] coordinates {(-30,100) (-20,101) (-14,103) (-5,105) (4,106.5) (15,105.5) (33,105) (50,103.5) (68,103.8) (91,105) (115,106.5) (144,109) (168,112) (185,113.5) (203,112.5) (232,110.5) (262,108) (297,105) (332,102) (360,100)};
\end{axis}

\begin{axis}[panel, at={(894pt,-595pt)}, strip={tea bags},
  ymin=81.9, ymax=110.4, ytick={90,100,110}, minor ytick={85,95,105}]
\addplot[cr] coordinates {(-30,100) (-22,99.5) (-14,104.5) (-11,103.2) (6,104.2) (17,107.6) (34,103.8) (45,102.2) (52,104.2) (66,100.3) (94,102.2) (101,105.5) (108,100.3) (135,102.6) (150,103.5) (157,105.5) (171,102.5) (185,103.5) (212,103) (226,103.5) (240,102) (254,101.5) (268,103) (296,100.5) (310,102) (324,100.5) (338,101) (350,101.5) (360,101.5)};
\addplot[co] coordinates {(-30,100) (-22,99.5) (-14,104.8) (-11,103.5) (6,104.5) (17,108) (34,104) (45,102.5) (52,104.5) (66,100.5) (94,102.5) (101,106) (108,100.5) (135,103) (143,101.5) (147,109) (154,106) (164,105) (171,107) (192,105) (199,106.5) (206,104.5) (212,106) (226,105) (233,106) (247,103.5) (254,106) (268,105.5) (289,102.5) (310,104) (324,103.5) (331,105) (345,104.3) (360,104.3)};
\addplot[gc] coordinates {(-30,100) (-21,101.5) (-11,102.5) (-4,100) (3,97) (7,94) (14,96) (20,97.5) (28,93) (38,94) (52,95) (66,96) (80,96.5) (101,97.1) (128,98) (156,99.5) (177,100.2) (190,100.4) (212,99) (233,96) (254,92) (275,89) (296,87) (324,85) (345,83.8) (360,83)};
\addplot[gm] coordinates {(-30,100) (-21,101.5) (-11,102.5) (-4,100) (3,97) (7,94) (14,96) (20,97.5) (28,93) (38,94) (52,95) (66,96) (80,96.5) (101,97.1) (128,98) (156,99.5) (177,100.3) (190,101) (212,99.5) (233,97) (254,93) (275,90) (296,88) (324,86.4) (345,85.5) (360,84.8)};
\end{axis}

\begin{axis}[panel, at={(1051pt,-595pt)}, strip={tomatoes},
  ymin=88.54, ymax=104.1, ytick={92,96,100,104}, minor ytick={90,94,98,102}]
\addplot[cr] coordinates {(-30,100) (-25,101) (-18,100.4) (-11,102) (-3,101) (18,102.5) (32,102) (53,101) (74,100.5) (88,99) (103,97) (117,96.7) (124,95.8) (152,96.3) (208,96.2) (257,95.5) (271,96) (285,95.5) (300,94.7) (335,95.5) (350,96) (360,96)};
\addplot[co] coordinates {(-30,100) (-25,101) (-18,99) (-11,101.5) (-3,100.5) (4,102.6) (18,101) (25,97.5) (32,101.5) (46,98.5) (60,98) (74,97) (88,96.3) (103,94) (117,93) (124,91.8) (138,91.5) (194,91) (201,91.8) (215,90.3) (229,91) (243,91.5) (257,90.5) (271,89.8) (285,89.5) (328,89.8) (350,90.6) (360,90.6)};
\addplot[gc] coordinates {(-30,100) (-22,101.3) (-13,100.6) (-6,102) (4,103.3) (11,102.5) (18,103) (46,102.5) (74,102) (103,101.7) (124,101) (138,100.1) (152,99.5) (173,99.4) (201,99.6) (243,99.8) (271,100) (314,100.5) (342,100.3) (360,100)};
\addplot[gm] coordinates {(-30,100) (-22,101) (-13,100.5) (-6,101.5) (4,102) (18,102.5) (46,102) (74,101.5) (103,101) (124,100) (138,99) (152,98.2) (173,98) (201,98.2) (243,98.4) (271,98.5) (314,98.8) (360,99.2)};
\end{axis}

% ---------------- row 5 ----------------
\begin{axis}[panel, bottomrow, at={(69pt,-785pt)}, strip={vodka},
  ymin=88.4, ymax=102.7, ytick={92,96,100}, minor ytick={90,94,98,102}]
\pair{cr}{co}{(-30,100) (-25,99) (-21,100.3) (-15,98.5) (-9,98.2) (-5,99) (4,98.5) (16,98.3) (20,95.5) (25,97.7) (35,98) (41,98.3) (45,100.5) (49,98) (57,99) (63,101.2) (69,98.5) (74,95) (81,94.8) (86,98.5) (94,98) (103,99.5) (107,101.8) (111,100) (121,98.5) (131,96.5) (140,97) (148,93.5) (152,93) (158,90.5) (164,89) (181,93.5) (190,97) (198,96) (206,94) (221,93.8) (233,93.5) (252,93.2) (261,93) (272,92) (282,92.2) (292,92.8) (300,94) (307,93.8) (313,94.8) (326,94.5) (338,95.5) (350,95.8) (357,95.5) (360,95.5)}
\pair{gc}{gm}{(-30,100) (-21,99.5) (-9,98.1) (-2,97.8) (10,98.8) (23,99) (33,99.8) (42,99.5) (61,99.2) (80,98.8) (105,98.5) (118,98.5) (137,98) (162,97.3) (180,96.6) (200,97) (212,97.5) (238,98.3) (262,98.7) (287,98.8) (312,99) (337,99.3) (360,99.5)}
\end{axis}

\begin{axis}[panel, bottomrow, at={(238pt,-785pt)}, strip={whisky},
  ymin=89.9, ymax=105.3, ytick={90,95,100,105}, minor ytick={92.5,97.5,102.5}]
\pair{cr}{co}{(-30,100) (-28,102) (-22,99.5) (-16,101.5) (-10,102) (17,103) (24,103.5) (38,104.5) (48,103) (62,98) (76,97.5) (101,103) (108,101.5) (115,100) (129,99.5) (140,97) (150,93) (157,90.5) (171,91) (185,96) (192,99.5) (199,100.5) (214,100) (228,99) (242,99.3) (256,99.8) (270,98.5) (284,97) (298,98.5) (312,98) (326,97) (340,96.5) (350,96) (357,101.5) (360,101.5)}
\addplot[gc] coordinates {(-30,101) (-22,100) (-12,100.5) (-4,101.5) (10,102) (17,103) (31,104.5) (45,104.1) (73,104) (101,103.5) (129,103.8) (157,103) (178,102) (200,101.2) (214,101) (235,101.5) (256,102.5) (284,103.3) (320,103.8) (350,104.1) (360,103.8)};
\addplot[gm] coordinates {(-30,100) (-20,100.5) (-8,101) (3,101.5) (17,103) (28,104.5) (45,104.3) (73,104) (101,103.6) (129,103.8) (157,103.3) (178,102.5) (200,102) (228,102.2) (256,102.6) (284,103) (340,103.1) (355,103) (360,102.8)};
\end{axis}

\begin{axis}[panel, bottomrow, at={(407pt,-785pt)}, strip={white wine},
  ymin=89.9, ymax=118.1, ytick={90,100,110}, minor ytick={95,105,115}]
\pair{cr}{co}{(-30,100) (-23,99) (-15,98.3) (9,97.8) (19,98.3) (23,103.5) (33,102.5) (39,103.8) (46,102) (55,101) (59,104.5) (73,100.5) (80,99.5) (87,99.2) (94,104.5) (110,105.5) (113,103.5) (130,103) (152,100) (159,98) (166,96.8) (191,97.5) (202,98.5) (216,98) (223,101.5) (230,97) (243,96.3) (257,97.5) (271,97.8) (285,98.3) (292,98) (300,94.8) (314,95.2) (328,95.8) (342,94.8) (350,93.5) (355,92.5) (358,91.3) (360,91.3)}
\addplot[gc] coordinates {(-30,100) (-26,101) (-20,105) (-14,108) (-7,110.5) (5,114) (19,113.5) (30,116.5) (47,115.6) (74,114.5) (101,113) (128,111.6) (161,110) (188,109) (229,108) (270,107) (311,106.4) (352,105.6) (360,105.3)};
\addplot[gm] coordinates {(-30,100) (-20,102) (-3,102) (5,106.5) (19,105.6) (30,108.6) (47,107.1) (74,106) (101,105) (121,104.2) (148,103.5) (175,103) (202,102.8) (270,102.8) (311,102.7) (352,102.6) (360,102.4)};
\end{axis}

\begin{axis}[panel, bottomrow, at={(576pt,-785pt)}, strip={whole milk},
  ymin=79.9, ymax=107.5, ytick={80,90,100}, minor ytick={85,95,105}]
\addplot[cr] coordinates {(-30,100) (-24,101.5) (-18,100) (-13,102) (-7,99.5) (0,101) (14,101.6) (21,104) (28,100.5) (35,106) (42,101.5) (49,104) (56,103.5) (63,106) (70,102) (77,104.5) (84,101) (91,100) (98,104) (105,99.5) (119,101.5) (126,103.5) (133,100.5) (141,104.5) (148,101) (155,100.5) (162,103.5) (186,101.5) (197,100) (204,97.5) (211,98.5) (218,96.5) (225,97.8) (232,98.8) (246,98) (253,96) (260,97) (274,98) (288,97.5) (302,96.5) (316,95) (337,96) (345,97) (360,96.5)};
\addplot[co] coordinates {(-30,100) (-24,100.6) (35,99) (42,99.6) (49,98.8) (84,100) (91,98.8) (190,98.5) (204,98) (218,99) (232,98) (246,98.5) (260,97.6) (288,98) (302,97.6) (323,98.5) (360,98.5)};
\addplot[gc] coordinates {(-30,100) (-21,97) (-14,96) (-7,95.4) (0,95.3) (3,90) (7,84) (14,86) (18,84) (21,86) (28,81) (42,84) (49,84.8) (63,86) (84,87.5) (105,88) (148,88.5) (176,87) (204,88) (225,88.5) (246,89) (274,89.5) (316,90) (345,90.3) (360,91)};
\addplot[gm] coordinates {(-30,100) (-21,99.6) (21,99.4) (49,99) (91,98.8) (134,98.7) (176,98.7) (218,98.9) (260,99.2) (302,99.3) (345,99.6) (360,99.8)};
\end{axis}

\begin{axis}[panel, bottomrow, at={(735pt,-785pt)}, strip={yoghurt},
  ymin=87.5, ymax=109.3, ytick={90,95,100,105}, minor ytick={92.5,97.5,102.5,107.5}]
\pair{cr}{co}{(-30,101) (-24,97.5) (-20,96) (-10,100.5) (-3,97.8) (14,101) (23,98) (26,100) (33,96.8) (50,100.8) (60,97.5) (75,95.5) (82,99.5) (97,93.5) (126,99.5) (140,95.5) (162,99.3) (190,94.5) (203,98.8) (211,91) (226,93.8) (254,92) (268,93) (283,92.2) (297,93) (311,90.5) (333,91.8) (350,88) (360,88)}
\pair{gc}{gm}{(-30,100) (-24,98) (-17,97.5) (-10,98.5) (-3,98) (4,105) (18,105.5) (29,108.5) (40,107.6) (68,106.5) (104,105) (140,104) (169,103.3) (183,103.2) (205,102.5) (234,101.5) (270,100.8) (313,100.2) (348,99.8) (360,99.3)}
\end{axis}

% axis titles
\node[rotate=90, font=\fontsize{14.5}{16}\selectfont] at (18pt,-487pt) {Level of Index};
\node[font=\fontsize{14.5}{16}\selectfont] at (620pt,-1023pt) {Time};

% legend
\node[anchor=west, font=\bfseries\fontsize{12.5}{14}\selectfont, inner sep=0pt] at (959pt,-800pt) {index};
\fill[keygray, draw=white, line width=1pt] (959pt,-810pt) rectangle (986pt,-837.5pt);
\fill[keygray, draw=white, line width=1pt] (959pt,-837.5pt) rectangle (986pt,-865pt);
\fill[keygray, draw=white, line width=1pt] (959pt,-865pt) rectangle (986pt,-892.5pt);
\fill[keygray, draw=white, line width=1pt] (959pt,-892.5pt) rectangle (986pt,-920pt);
\draw[draw=lnred, line width=1.1pt] (961pt,-824pt) -- (984pt,-824pt);
\draw[draw=lnorange, line width=1.1pt] (961pt,-851pt) -- (984pt,-851pt);
\draw[draw=lngreen, line width=1.1pt] (961pt,-879pt) -- (984pt,-879pt);
\draw[draw=lnolive, line width=1.1pt] (961pt,-906pt) -- (984pt,-906pt);
\begin{scope}[every node/.style={anchor=west, font=\fontsize{12.5}{14}\selectfont, inner sep=0pt}]
\node at (990pt,-823.7pt) {Chained Daily Cleaned};
\node at (990pt,-851.2pt) {Chained Daily Manual Cleaned};
\node at (990pt,-878.7pt) {GEKS Cleaned};
\node at (990pt,-906.2pt) {GEKS Manual Cleaned};
\end{scope}
\end{tikzpicture}
\end{document}
